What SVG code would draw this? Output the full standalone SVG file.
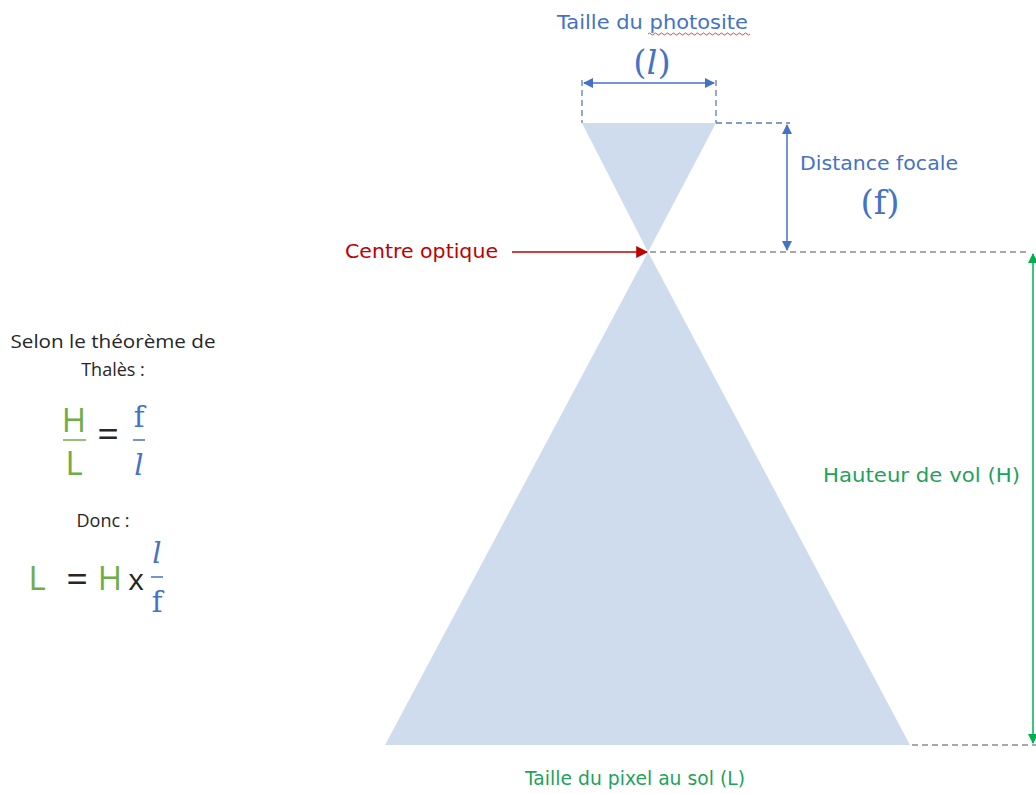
<svg xmlns="http://www.w3.org/2000/svg" width="1036" height="794" viewBox="0 0 1036 794">
<style>
.lbl{font-family:"DejaVu Sans",Verdana,sans-serif;font-size:19px}
.blue{fill:#4472C4}
.green{fill:#1FA25C}
.red{fill:#C00000}
.cal{font-family:"Open Sans","Liberation Sans",Arial,sans-serif;fill:#262626}
.math{font-family:"DejaVu Serif","Liberation Serif",serif}
.lg{fill:#70AD47}
.dash{fill:none;stroke-width:1.3;stroke-dasharray:6 4}
</style>
<defs>
<marker id="ab" viewBox="0 0 10 10" refX="9" refY="5" markerWidth="7" markerHeight="7" orient="auto-start-reverse" markerUnits="strokeWidth"><path d="M0 0L10 5L0 10z" fill="#4472C4"/></marker>
<marker id="ag" viewBox="0 0 10 10" refX="9" refY="5" markerWidth="7" markerHeight="7" orient="auto-start-reverse" markerUnits="strokeWidth"><path d="M0 0L10 5L0 10z" fill="#00B050"/></marker>
<marker id="ar" viewBox="0 0 10 10" refX="9" refY="5" markerWidth="8" markerHeight="8" orient="auto" markerUnits="strokeWidth"><path d="M0 0L10 5L0 10z" fill="#C00000"/></marker>
</defs>
<g id="cone">
<polygon points="582,123 716,123 648,252" fill="#CFDCEE"/>
<polygon points="648,252 910,745 385,745" fill="#CFDCEE"/>
</g>
<g id="connectors">
<path class="dash" stroke="#5B7DB8" d="M582 80V123M716 80V123M716 123H790"/>
<path class="dash" stroke="#8C8C8C" d="M650 252H1030M912 745H1036"/>
<line x1="584" y1="83" x2="714" y2="83" stroke="#4472C4" stroke-width="1.5" marker-start="url(#ab)" marker-end="url(#ab)"/>
<line x1="787" y1="125" x2="787" y2="250" stroke="#4472C4" stroke-width="1.5" marker-start="url(#ab)" marker-end="url(#ab)"/>
<line x1="1033" y1="254" x2="1033" y2="743" stroke="#00B050" stroke-width="1.5" marker-start="url(#ag)" marker-end="url(#ag)"/>
<line x1="512" y1="252" x2="647" y2="252" stroke="#C00000" stroke-width="1.5" marker-end="url(#ar)"/>
</g>
<g id="photosite">
<text class="lbl blue" x="557" y="29" textLength="191" lengthAdjust="spacingAndGlyphs">Taille du photosite</text>
<path d="M648 34q1.5-2 3 0t3 0t3 0t3 0t3 0t3 0t3 0t3 0t3 0t3 0t3 0t3 0t3 0t3 0t3 0t3 0t3 0t3 0t3 0t3 0t3 0t3 0t3 0t3 0t3 0t3 0t3 0t3 0t3 0t3 0t3 0t3 0t3 0t3 0" fill="none" stroke="#E03030" stroke-width="0.9"/>
<text class="math blue" x="652" y="74" font-size="34" text-anchor="middle">(<tspan font-style="italic">l</tspan>)</text>
</g>
<g id="focale">
<text class="lbl blue" x="800" y="170" textLength="158" lengthAdjust="spacingAndGlyphs">Distance focale</text>
<text class="math blue" x="880" y="214" font-size="34" text-anchor="middle">(f)</text>
</g>
<g id="centre">
<text class="lbl red" x="345" y="258" textLength="153" lengthAdjust="spacingAndGlyphs">Centre optique</text>
</g>
<g id="hauteur">
<text class="lbl green" x="823" y="482" textLength="197" lengthAdjust="spacingAndGlyphs">Hauteur de vol (H)</text>
</g>
<g id="pixel">
<text class="lbl green" x="525" y="785" textLength="220" lengthAdjust="spacingAndGlyphs">Taille du pixel au sol (L)</text>
</g>
<g id="formula">
<text class="cal" x="113" y="348" font-size="18" text-anchor="middle" textLength="205" lengthAdjust="spacingAndGlyphs">Selon le théorème de</text>
<text class="cal" x="113" y="376" font-size="18" text-anchor="middle">Thalès :</text>
<text class="cal lg" x="74" y="432" font-size="33" text-anchor="middle">H</text>
<line x1="63" y1="440" x2="86" y2="440" stroke="#70AD47" stroke-width="1.5"/>
<text class="cal lg" x="74" y="475" font-size="33" text-anchor="middle">L</text>
<text class="cal" x="108" y="447" font-size="38" text-anchor="middle">=</text>
<text class="math blue" x="139" y="427" font-size="29" text-anchor="middle">f</text>
<line x1="133" y1="440" x2="145" y2="440" stroke="#4472C4" stroke-width="1.5"/>
<text class="math blue" x="139" y="475" font-size="29" font-style="italic" text-anchor="middle">l</text>
<text class="cal" x="103" y="527" font-size="18" text-anchor="middle">Donc :</text>
<text class="cal lg" x="37" y="590" font-size="33" text-anchor="middle">L</text>
<text class="cal" x="77" y="592" font-size="38" text-anchor="middle">=</text>
<text class="cal lg" x="110" y="590" font-size="33" text-anchor="middle">H</text>
<text class="cal" x="136" y="590" font-size="30" text-anchor="middle" fill="#000">x</text>
<text class="math blue" x="157" y="563" font-size="29" font-style="italic" text-anchor="middle">l</text>
<line x1="151" y1="577" x2="163" y2="577" stroke="#4472C4" stroke-width="1.5"/>
<text class="math blue" x="157" y="612" font-size="29" text-anchor="middle">f</text>
</g>
</svg>
